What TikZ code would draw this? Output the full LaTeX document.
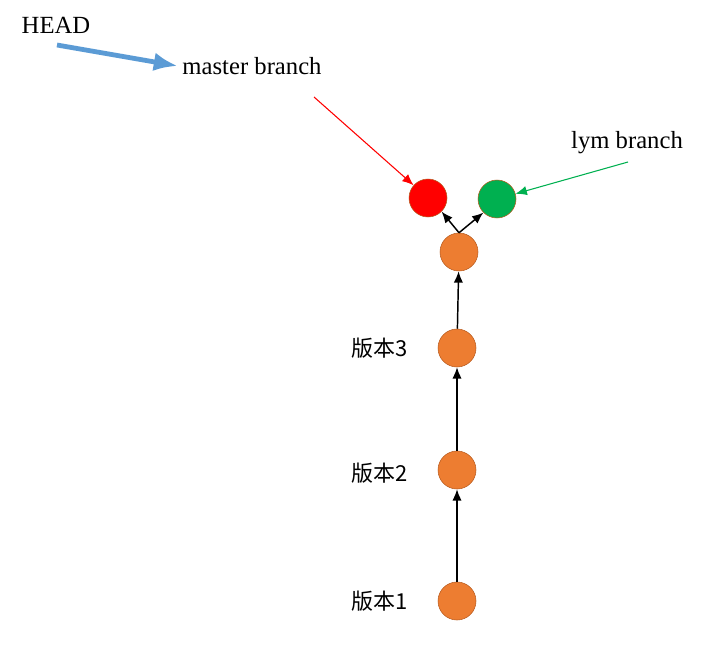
\documentclass[tikz,border=0pt]{standalone}
\usepackage{fontspec}
\setmainfont{Liberation Serif}
\newfontfamily\cjk{Noto Sans CJK SC}
\usetikzlibrary{arrows.meta}
\definecolor{gitorange}{HTML}{ED7D31}
\definecolor{gitedge}{HTML}{B85C20}
\definecolor{gitgreen}{HTML}{00B050}
\definecolor{headblue}{HTML}{5B9BD5}
\begin{document}
\begin{tikzpicture}[x=0.75pt,y=-0.75pt,>={Latex[length=8.5pt,width=7pt]},
	commit/.style={circle,draw=gitedge,fill=gitorange,minimum size=28.5pt,inner sep=0pt},
	label/.style={font=\fontsize{18.5}{21}\selectfont},
	version/.style={font=\cjk\fontsize{16.5}{20}\selectfont}]
	\useasboundingbox (0,0) rectangle (727,660);
	% commits
	\node[commit] (v1) at (457,601) {};
	\node[commit] (v2) at (457,470) {};
	\node[commit] (v3) at (457,348) {};
	\node[commit] (top) at (459,252) {};
	\node[commit,fill=red] (master) at (428,198) {};
	\node[commit,fill=gitgreen] (lym) at (497,199) {};
	\node[version] at (380,601) {版本1};
	\node[version] at (380,473) {版本2};
	\node[version] at (380,348) {版本3};
	% pointers
	\node[label] (head) at (56,25) {HEAD};
	\node[label] (mlabel) at (252,66) {master branch};
	\node[label] (llabel) at (627,143) {lym branch};
	\coordinate (htail) at (57,45);
	\coordinate (mtail) at (314,97);
	\coordinate (ltail) at (628,162);
	\draw [line width=1.1pt,->] (v1) -- (v2);
	\draw [line width=1.1pt,->] (v2) -- (v3);
	\draw [line width=1.1pt,->] (v3) -- (top);
	\draw [line width=1.1pt,->] (top.north) -- (master.south east);
	\draw [line width=1.1pt,->] (top.north) -- (lym.south west);
	\draw [red,line width=0.8pt,->] (mtail) -- (master);
	\draw [gitgreen,line width=0.8pt,->] (ltail) -- (lym);
	\draw [headblue,line width=3.6pt,-{Latex[length=18pt,width=14pt]}] (htail) -- (mlabel.west);
\end{tikzpicture}
\end{document}
